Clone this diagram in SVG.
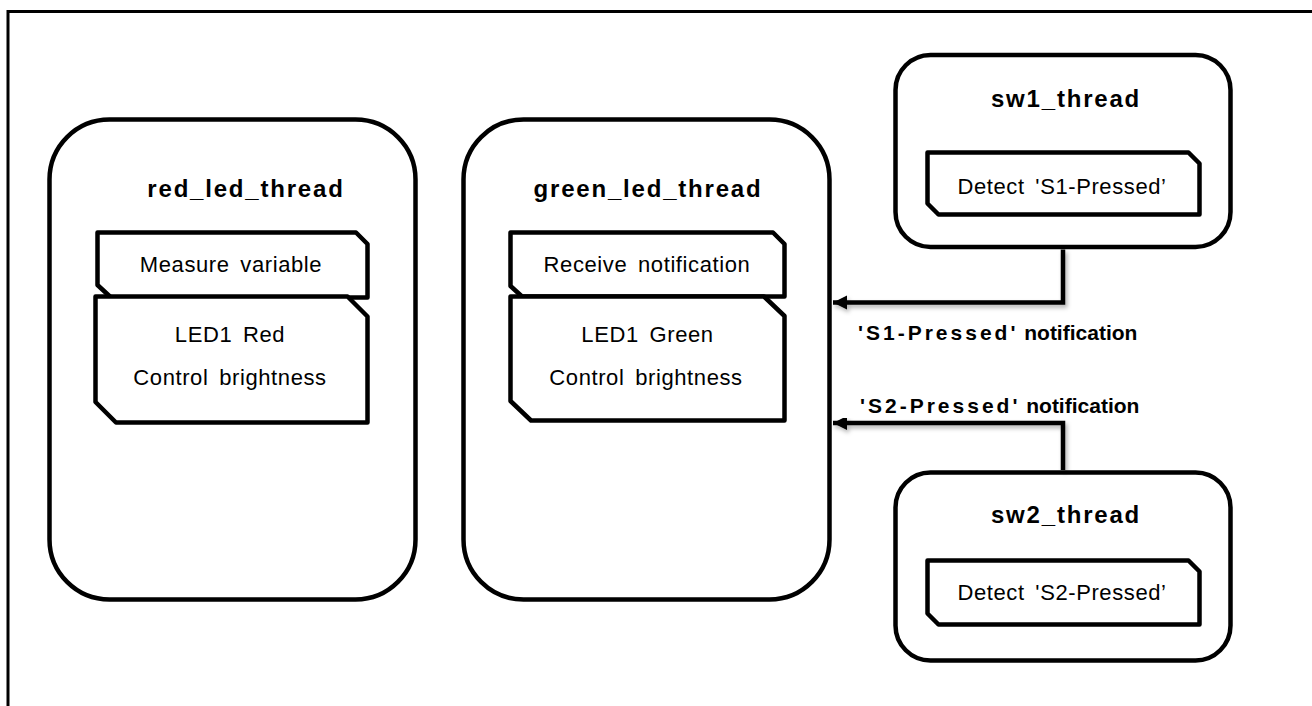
<svg xmlns="http://www.w3.org/2000/svg" width="1312" height="706" viewBox="0 0 1312 706">
<style>
.frame{fill:none;stroke:#000;stroke-width:3}
.thread{fill:#fff;stroke:#000;stroke-width:4.5}
.step{fill:#fff;stroke:#000;stroke-width:4.5;stroke-linejoin:round}
.title{font-family:"Liberation Sans",Arial,sans-serif;font-weight:bold;font-size:24px;letter-spacing:1.8px;text-anchor:middle;fill:#000}
.txt{font-family:"Liberation Sans",Arial,sans-serif;font-size:22px;letter-spacing:0.6px;word-spacing:4px;text-anchor:middle;fill:#000}
.lbl{font-family:"Liberation Sans",Arial,sans-serif;font-weight:bold;font-size:21px;fill:#000}
.conn{fill:none;stroke:#000;stroke-width:4.5;stroke-linejoin:miter}
</style>
<defs>
<marker id="arrow" markerUnits="userSpaceOnUse" markerWidth="16" markerHeight="16" refX="14" refY="7" orient="auto">
<path d="M0,0 L14,7 L0,14 z" fill="#000"/>
</marker>
<filter id="shadow" x="-10%" y="-10%" width="130%" height="150%">
<feDropShadow dx="2" dy="3" stdDeviation="2" flood-color="#000" flood-opacity="0.3"/>
</filter>
</defs>
<rect class="frame" x="8" y="11.5" width="1330" height="720"/>

<g id="red_led_thread">
<rect class="thread" x="49.5" y="119.5" width="366" height="480" rx="60" ry="60"/>
<text class="title" x="246" y="197">red_led_thread</text>
<path class="step" d="M97.5,232.5 H356 L367.5,244 V297.5 H111 L97.5,285 Z"/>
<text class="txt" x="231" y="272">Measure variable</text>
<path class="step" d="M95.5,296.5 H347.5 L367.5,316.5 V422.5 H116 L95.5,402 Z"/>
<text class="txt" x="230" y="342">LED1 Red</text>
<text class="txt" x="230" y="385">Control brightness</text>
</g>

<g id="green_led_thread">
<rect class="thread" x="463.5" y="119.5" width="366" height="480" rx="60" ry="60"/>
<text class="title" x="648" y="197">green_led_thread</text>
<path class="step" d="M510.5,232.5 H773 L784.5,244 V296.5 H522 L510.5,286 Z"/>
<text class="txt" x="647" y="272">Receive notification</text>
<path class="step" d="M510.5,296.5 H764 L784.5,316 V420.5 H531 L510.5,401 Z"/>
<text class="txt" x="647.5" y="342">LED1 Green</text>
<text class="txt" x="646" y="385">Control brightness</text>
</g>

<g id="sw1_thread">
<rect class="thread" x="895.5" y="55" width="335" height="192" rx="35" ry="35"/>
<text class="title" x="1066" y="107">sw1_thread</text>
<path class="step" d="M927.5,152.5 H1188.5 L1199.5,163.5 V214.5 H938.5 L927.5,203.5 Z"/>
<text class="txt" x="1062" y="194">Detect 'S1-Pressed’</text>
</g>

<g id="sw2_thread">
<rect class="thread" x="895.5" y="472.5" width="335" height="188" rx="35" ry="35"/>
<text class="title" x="1066" y="523">sw2_thread</text>
<path class="step" d="M927.5,560.5 H1188.5 L1199.5,571.5 V624.5 H938.5 L927.5,613.5 Z"/>
<text class="txt" x="1062" y="600">Detect 'S2-Pressed’</text>
</g>

<g id="connectors">
<path class="conn" filter="url(#shadow)" marker-end="url(#arrow)" d="M1063,249.5 V302.5 H833"/>
<path class="conn" filter="url(#shadow)" marker-end="url(#arrow)" d="M1063,470 V423 H833"/>
<text class="lbl" x="858" y="340"><tspan letter-spacing="3px">'S1-Pressed'</tspan> notification</text>
<text class="lbl" x="860" y="413"><tspan letter-spacing="3px">'S2-Pressed'</tspan> notification</text>
</g>
</svg>
